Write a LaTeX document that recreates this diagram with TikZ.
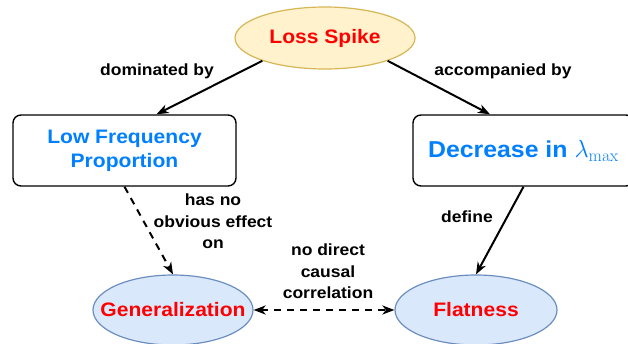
\documentclass[tikz,border=0pt]{standalone}
\usepackage[no-math]{fontspec}
\setmainfont[FakeStretch=1.08]{Liberation Sans}
\usetikzlibrary{shapes.geometric,arrows.meta}
\definecolor{spikefill}{HTML}{FFF2CC}
\definecolor{spikeline}{HTML}{D6B656}
\definecolor{ovalfill}{HTML}{DAE8FC}
\definecolor{ovalline}{HTML}{6C8EBF}
\definecolor{textblue}{HTML}{007FFF}
\definecolor{textred}{HTML}{FF0000}
% zero-width text so an ellipse keeps exactly its given size
\newcommand{\flattext}[1]{\makebox[0pt]{#1}}
\tikzset{
  big/.style={font=\fontsize{19.5}{24}\selectfont\bfseries, align=center},
  lbl/.style={font=\fontsize{16.2}{21.5}\selectfont\bfseries, align=center, text=black},
  oval/.style={ellipse, draw=ovalline, fill=ovalfill, line width=1.2pt, inner sep=0pt, big, text=textred},
  card/.style={rectangle, rounded corners=8pt, draw=black, fill=white, line width=1.4pt, inner sep=0pt, big, text=textblue},
  link/.style={line width=2pt, -{Stealth[length=12pt,width=9pt,inset=3.5pt]}},
  dlink/.style={link, dash pattern=on 7pt off 6pt}
}
\begin{document}
\begin{tikzpicture}[x=1pt,y=-1pt]
\useasboundingbox (0,0) rectangle (628,343);

\node[ellipse, draw=spikeline, fill=spikefill, line width=1.2pt, inner sep=0pt,
      minimum width=180pt, minimum height=62pt, big, text=textred] (loss) at (325,38) {\flattext{Loss Spike}};

\node[card, minimum width=223pt, minimum height=71pt] (lowf) at (124.5,150.5) {Low Frequency\\Proportion};
\node[card, minimum width=221pt, minimum height=71pt, font=\fontsize{23}{24}\selectfont\bfseries] (decr) at (523.5,150.5)
  {Decrease in {\fontsize{26.5}{24}\selectfont$\lambda_{\max}$}};

\node[oval, minimum width=160pt, minimum height=70pt] (gen) at (173,310) {\flattext{Generalization}};
\node[oval, minimum width=162pt, minimum height=70pt] (flat) at (476,310) {\flattext{Flatness}};

\draw[link] (loss.200) -- ([xshift=32pt]lowf.north);
\draw[link] (loss.340) -- ([xshift=-33.5pt]decr.north);
\draw[dlink] (lowf.south) -- (gen.north);
\draw[link] (decr.south) -- (flat.north);
\draw[dlink, {Stealth[length=12pt,width=9pt,inset=3.5pt]}-{Stealth[length=12pt,width=9pt,inset=3.5pt]}] (gen.east) -- (flat.west);

\node[lbl] (ldom) at (157,71) {dominated by};
\node[lbl] (lacc) at (503,71) {accompanied by};
\node[lbl] (lno) at (213,221.5) {has no\\obvious effect\\on};
\node[lbl] (ldef) at (467,217) {define};
\node[lbl] (lcau) at (328,271.5) {no direct\\causal\\correlation};
\end{tikzpicture}
\end{document}
